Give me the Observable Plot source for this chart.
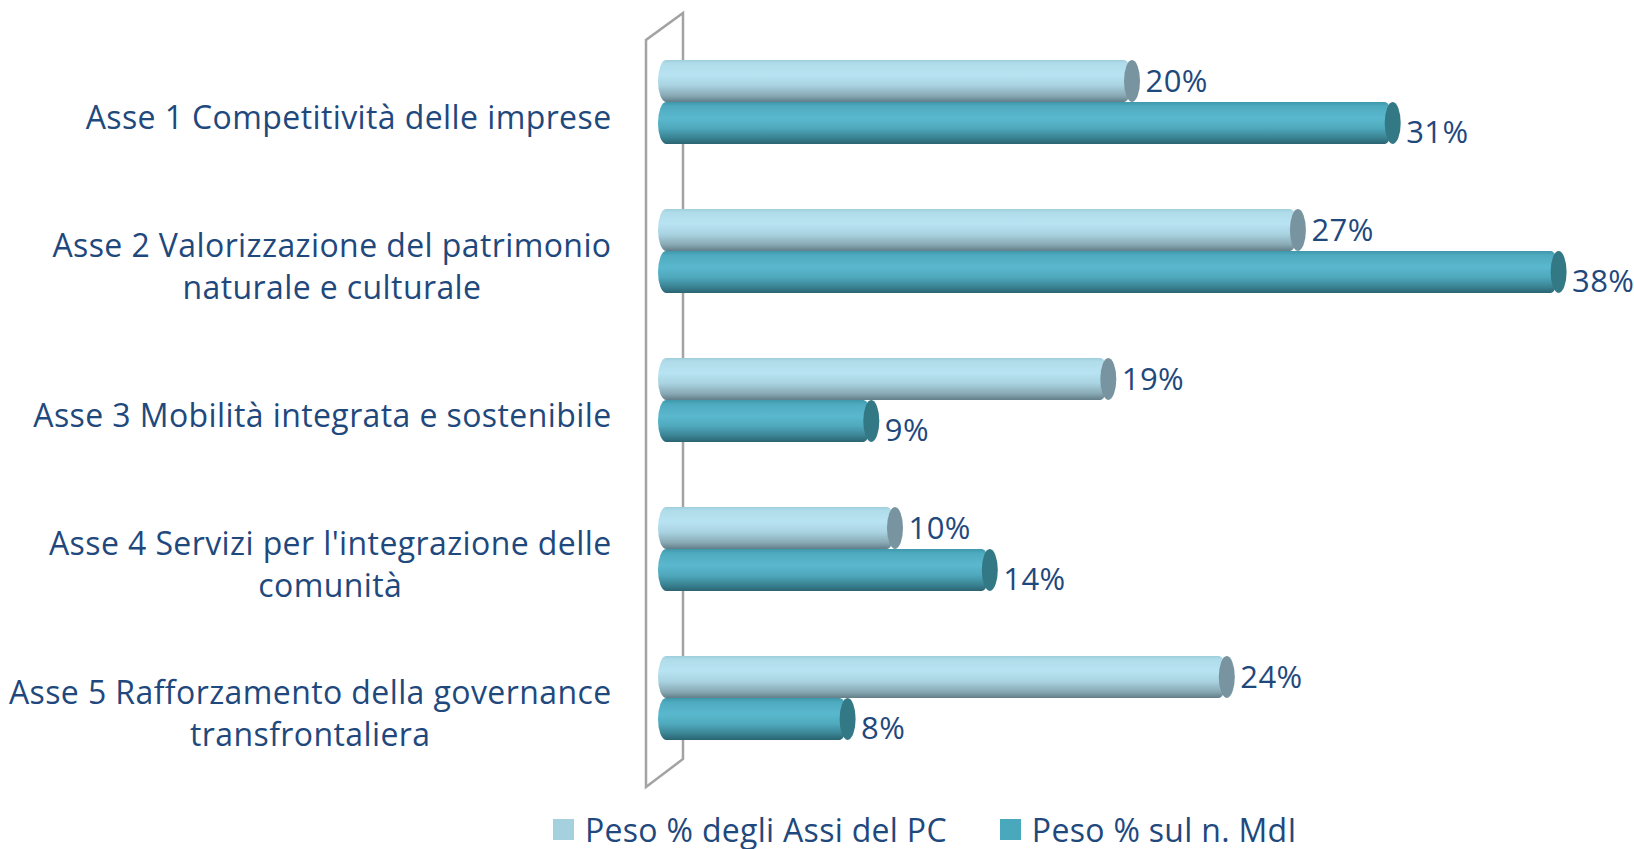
<!DOCTYPE html>
<html>
<head>
<meta charset="utf-8">
<script src="https://cdn.jsdelivr.net/npm/d3@7"></script>
<script src="https://cdn.jsdelivr.net/npm/@observablehq/plot@0.6"></script>
<style>
  html, body { margin: 0; padding: 0; background: #ffffff; }
  body { width: 1634px; height: 849px; overflow: hidden; font-family: "Open Sans", sans-serif; }
  #legend { display: flex; align-items: center; height: 49px; box-sizing: border-box; padding-top: 10px; padding-left: 553px; color: #1F497D; font-size: 32px; letter-spacing: 0.3px; line-height: 40px; }
  .item { display: flex; align-items: center; }
  .sw { width: 21px; height: 21px; margin-right: 11px; }
</style>
</head>
<body>
<div id="chart"></div>
<div id="legend"></div>
<script>
// ---- data ----
const categories = [
  "Asse 1 Competitività delle imprese",
  "Asse 2 Valorizzazione del patrimonio naturale e culturale",
  "Asse 3 Mobilità integrata e sostenibile",
  "Asse 4 Servizi per l'integrazione delle comunità",
  "Asse 5 Rafforzamento della governance transfrontaliera"
];
const tickLabels = [
  "Asse 1 Competitività delle imprese",
  "Asse 2 Valorizzazione del patrimonio\nnaturale e culturale",
  "Asse 3 Mobilità integrata e sostenibile",
  "Asse 4 Servizi per l'integrazione delle\ncomunità",
  "Asse 5 Rafforzamento della governance\ntransfrontaliera"
];
const pesoAssiPC = [20, 27, 19, 10, 24];
const pesoMdI = [31, 38, 9, 14, 8];
const seriesNames = ["Peso % degli Assi del PC", "Peso % sul n. MdI"];

// ---- styles ----
const textColor = "#1F497D";
const swatch = ["#a5d1df", "#4aa8bd"];
const capColor = ["#7794a0", "#337985"];
const fontSize = 32;
const valueFontSize = 31;
const fontFamily = "Open Sans";
const spacing = "0.4px";

const rows = categories.map((c, i) => ({cat: c, pc: pesoAssiPC[i], mdi: pesoMdI[i]}));

// measure label widths for centered multi-line labels
const ctx = document.createElement("canvas").getContext("2d");
ctx.font = `${fontSize}px "${fontFamily}"`;
try { ctx.letterSpacing = spacing; } catch (e) {}
const labelWidth = tickLabels.map(t => Math.max(...t.split("\n").map(l => ctx.measureText(l).width)));

function wall(index, scales, values, dims) {
  const x0 = scales.x(0);
  const top = dims.marginTop, bottom = dims.height - dims.marginBottom;
  const fx = x0 - 12, bx = x0 + 25;
  const g = d3.create("svg:g");
  const defs = g.append("defs");
  const gl = defs.append("linearGradient").attr("id", "gradLight").attr("x1", 0).attr("y1", 0).attr("x2", 0).attr("y2", 1);
  [[0, "#9ecedc"], [0.08, "#b0dcea"], [0.35, "#b8e3f2"], [0.6, "#a9d3e1"], [0.85, "#88a9b4"], [1, "#627e88"]]
    .forEach(([o, c]) => gl.append("stop").attr("offset", o).attr("stop-color", c));
  const gd = defs.append("linearGradient").attr("id", "gradDark").attr("x1", 0).attr("y1", 0).attr("x2", 0).attr("y2", 1);
  [[0, "#3f97aa"], [0.1, "#4eaabf"], [0.38, "#5ab8ce"], [0.62, "#4fa9bd"], [0.85, "#3a8393"], [1, "#2b6472"]]
    .forEach(([o, c]) => gd.append("stop").attr("offset", o).attr("stop-color", c));
  g.append("path")
    .attr("d", `M${fx},${bottom + 14.5}L${fx},${top + 12.5}L${bx},${top - 14.5}L${bx},${bottom - 13.5}Z`)
    .attr("fill", "none").attr("stroke", "#a3a3a3").attr("stroke-width", 2.5).attr("stroke-linejoin", "miter");
  return g.node();
}

const labelMarks = categories.map((c, i) => Plot.text([c], {
  y: d => d,
  text: () => tickLabels[i],
  frameAnchor: "left",
  textAnchor: "middle",
  dx: -(47 + labelWidth[i] / 2),
  dy: 13,
  lineHeight: 1.303,
  fontSize,
  fill: textColor
}));

const chart = Plot.plot({
  width: 1634,
  height: 800,
  marginLeft: 658,
  marginRight: 28,
  marginTop: 27.5,
  marginBottom: 27.5,
  style: {fontFamily: `"${fontFamily}", sans-serif`, fontSize: `${fontSize}px`, letterSpacing: spacing, background: "#ffffff"},
  x: {domain: [0, 40], axis: null},
  y: {domain: categories, axis: null, paddingInner: 0.4362, paddingOuter: 0.2181},
  marks: [
    wall,
    // light series bars
    Plot.barX(rows, {x1: () => 0, x2: "pc", y: "cat", insetBottom: 42, fill: "url(#gradLight)", rx: 8, ry: 21}),
    Plot.barX(rows, {x1: "pc", x2: "pc", y: "cat", insetBottom: 42, insetLeft: -8, insetRight: -8, fill: capColor[0], rx: 8, ry: 21}),
    // dark series bars
    Plot.barX(rows, {x1: () => 0, x2: "mdi", y: "cat", insetTop: 42, fill: "url(#gradDark)", rx: 8, ry: 21}),
    Plot.barX(rows, {x1: "mdi", x2: "mdi", y: "cat", insetTop: 42, insetLeft: -8, insetRight: -8, fill: capColor[1], rx: 8, ry: 21}),
    // value labels
    Plot.text(rows, {x: "pc", y: "cat", text: d => d.pc + "%", textAnchor: "start", dx: 13, dy: -20, fill: textColor, fontSize: valueFontSize}),
    Plot.text(rows, {x: "mdi", y: "cat", text: d => d.mdi + "%", textAnchor: "start", dx: 13, dy: 31, fill: textColor, fontSize: valueFontSize}),
    ...labelMarks
  ]
});
document.getElementById("chart").appendChild(chart);

// legend
const legend = d3.select("#legend");
seriesNames.forEach((name, i) => {
  const it = legend.append("div").attr("class", "item").style("margin-right", i === 0 ? "53px" : "0");
  it.append("div").attr("class", "sw").style("background", swatch[i]);
  it.append("span").text(name);
});
</script>
</body>
</html>
